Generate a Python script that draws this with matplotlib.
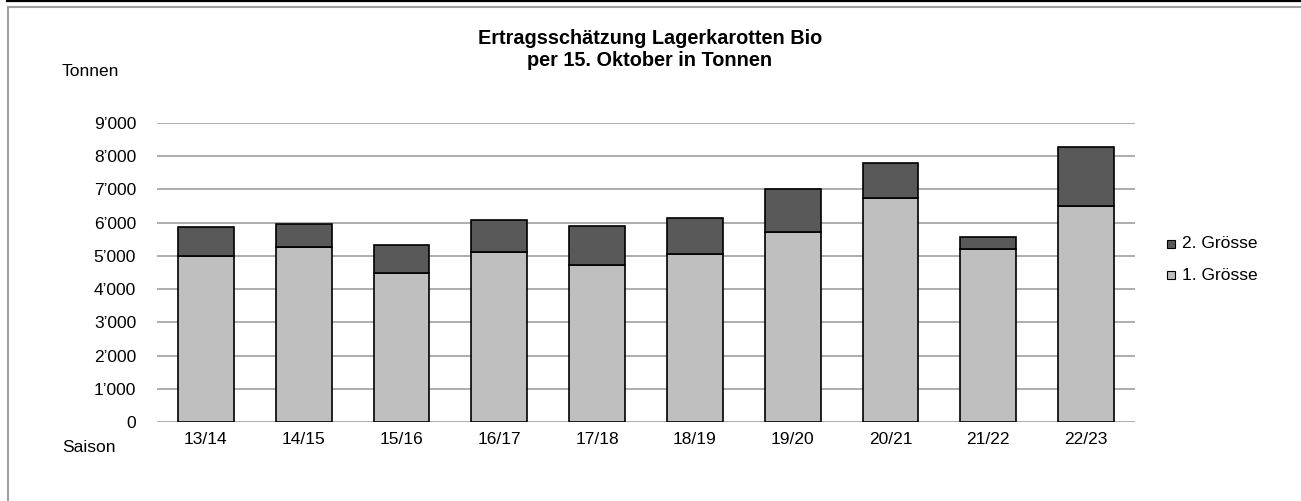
import numpy as np
import matplotlib
matplotlib.use("Agg")
import matplotlib.pyplot as plt
from matplotlib.lines import Line2D
from matplotlib.patches import Rectangle
from matplotlib.ticker import FuncFormatter

plt.rcParams["font.family"] = ["Liberation Sans", "DejaVu Sans"]

# ── Data (Tonnen) ─────────────────────────────────────────────────────────────
seasons = ["13/14", "14/15", "15/16", "16/17", "17/18",
           "18/19", "19/20", "20/21", "21/22", "22/23"]
groesse_1 = [5000, 5270, 4500, 5130, 4720, 5060, 5710, 6750, 5220, 6500]
totals    = [5860, 5960, 5340, 6080, 5900, 6130, 7000, 7810, 5560, 8290]
groesse_2 = [t - g for t, g in zip(totals, groesse_1)]

COL_1 = "#bfbfbf"
COL_2 = "#595959"
FS = 12.5   # text size for ticks, legend, axis notes

W, H = 1301, 501
fig = plt.figure(figsize=(W / 100, H / 100), dpi=100)
ax = fig.add_axes([157 / W, 1 - 422 / H, (1135 - 157) / W, (422 - 123) / H])

x = np.arange(len(seasons))
bw = 0.57
ax.bar(x, groesse_1, width=bw, color=COL_1, edgecolor="black",
       linewidth=1.2, zorder=3, label="1. Grösse")
ax.bar(x, groesse_2, width=bw, bottom=groesse_1, color=COL_2,
       edgecolor="black", linewidth=1.2, zorder=3, label="2. Grösse")

ax.set_xlim(-0.5, len(seasons) - 0.5)
ax.set_ylim(0, 9000)
ax.set_yticks(np.arange(0, 9001, 1000))
ax.yaxis.set_major_formatter(
    FuncFormatter(lambda v, _: f"{int(v):,}".replace(",", "\u2019")))
ax.set_xticks(x)
ax.set_xticklabels(seasons)
ax.grid(axis="y", color="#a0a0a0", linewidth=1.2, zorder=0)
for s in ax.spines.values():
    s.set_visible(False)
ax.tick_params(length=0, labelsize=FS, colors="black")
ax.tick_params(axis="y", pad=15)
ax.tick_params(axis="x", pad=7)

# legend, drawn by hand to sit where the reference has it
for yy, lab, col in [(244, "2. Grösse", COL_2), (275, "1. Grösse", COL_1)]:
    fig.patches.append(Rectangle((1167 / W, 1 - (yy + 4) / H), 8 / W, 8 / H,
                                 transform=fig.transFigure, facecolor=col,
                                 edgecolor="black", linewidth=0.8))
    fig.text(1182 / W, 1 - yy / H, lab, fontsize=FS, va="center", ha="left")

fig.text(650 / W, 1 - 38 / H, "Ertragsschätzung Lagerkarotten Bio",
         fontsize=14.3, fontweight="bold", ha="center", va="center")
fig.text(650 / W, 1 - 60 / H, "per 15. Oktober in Tonnen",
         fontsize=14.3, fontweight="bold", ha="center", va="center")
fig.text(62 / W, 1 - 72 / H, "Tonnen", fontsize=FS, ha="left", va="center")
fig.text(62 / W, 1 - 447 / H, "Saison", fontsize=FS, ha="left", va="center")

# frame lines
fig.lines.append(Line2D([7 / W, 1], [1 - 1 / H, 1 - 1 / H], color="black",
                        linewidth=1.6, transform=fig.transFigure))
fig.lines.append(Line2D([7.5 / W, 1], [1 - 6.5 / H, 1 - 6.5 / H],
                        color="#a0a0a0", linewidth=1.5,
                        transform=fig.transFigure))
fig.lines.append(Line2D([7.5 / W, 7.5 / W], [0, 1 - 6.5 / H],
                        color="#a0a0a0", linewidth=1.5,
                        transform=fig.transFigure))

fig.savefig("out.png", dpi=100)
